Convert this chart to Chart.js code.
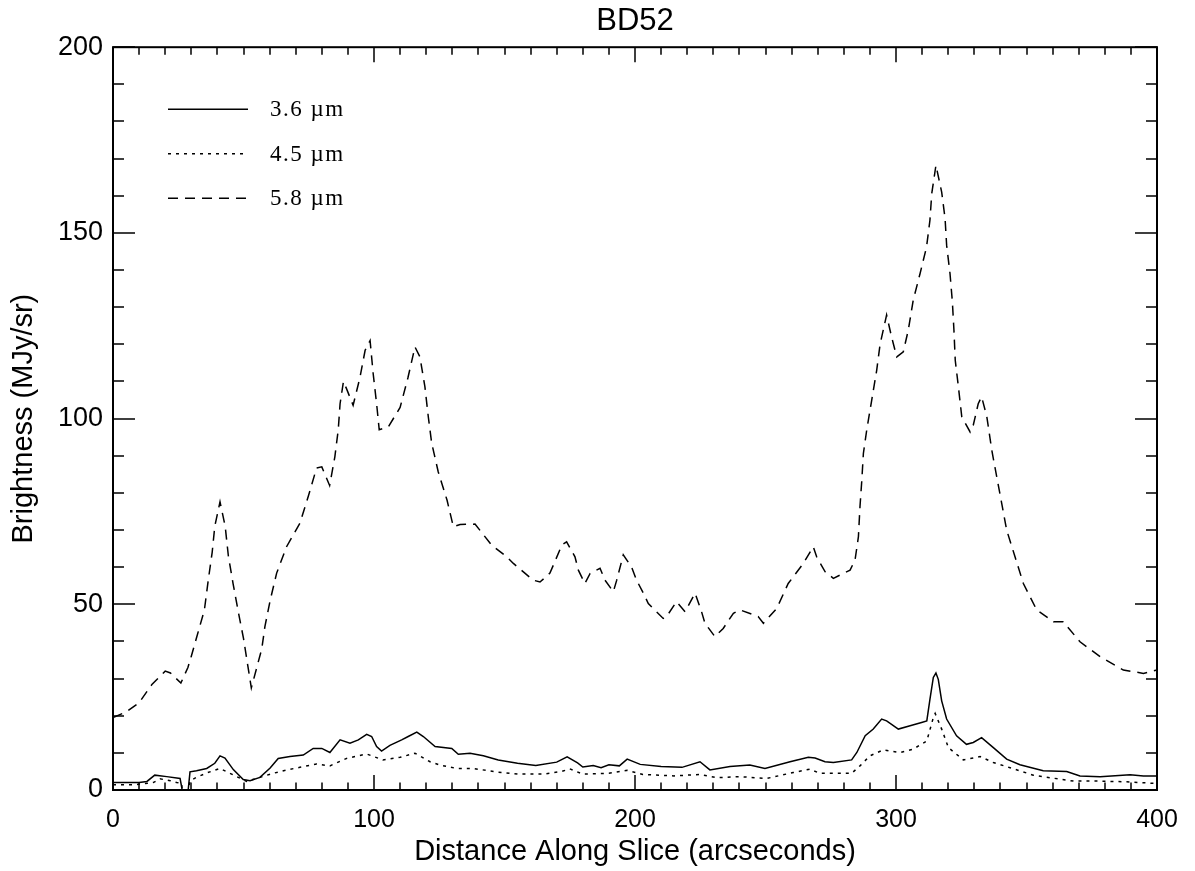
<!DOCTYPE html>
<html>
<head>
<meta charset="utf-8">
<title>BD52</title>
<script src="https://cdn.jsdelivr.net/npm/chart.js@4.4.1/dist/chart.umd.min.js"></script>
<style>
  html, body { margin: 0; padding: 0; background: #fff; }
  canvas { display: block; }
</style>
</head>
<body>
<canvas id="chart" width="1195" height="871"></canvas>
<script>
// Brightness profiles along the BD52 slice (MJy/sr vs arcseconds)
const distance58 = [0, 5, 10, 15, 20, 22, 26, 28.7, 30, 32, 35, 36.5, 38, 39, 41, 43, 44.2, 46, 48, 50,
  53, 57, 58.2, 60.2, 62.7, 66.5, 71.6, 74.8, 78, 80, 83, 85, 86.3, 87, 88.3, 89.5, 92, 94.6, 96.6, 98.5,
  99.7, 101, 102, 105.5, 110, 113, 115.7, 117.6, 119.5, 120.8, 122.1, 124.6, 128, 130.4, 133, 138.7, 145, 150.8, 153.4, 161,
  163.6, 167.4, 169.3, 172, 173.8, 177, 178.3, 180.8, 182.8, 186.6, 188.5, 191.7, 193, 195.5, 198.7, 200.6, 203.2, 205.1, 210.8, 212.1,
  215.9, 219.2, 223, 225.5, 226.8, 230.6, 233.8, 237.7, 240.2, 247.2, 249.2, 254.3, 258.7, 264.5, 268.3, 269.6, 272.8, 276, 282.4, 284.3,
  285.6, 286.2, 286.9, 287.5, 288.8, 290.7, 292.6, 293.9, 296.4, 298.3, 300.3, 302.8, 304.7, 306.6, 309.2, 311.7, 313, 313.7, 315.3, 317.5,
  318.8, 319.4, 320.7, 321.6, 322.2, 322.7, 323.9, 325.2, 328.4, 329.6, 331.5, 332.8, 334.8, 336.7, 338.6, 340.5, 342.4, 345.6, 348.8, 353.9,
  360.3, 364.1, 370.5, 378.2, 387.1, 394.8, 400];
const brightness58 = [19.5, 21, 23.5, 28.5, 32, 31.5, 28.8, 33, 36, 41, 48.4, 56.5, 64, 71, 77.6, 70.9, 63, 55.6, 48, 40.8,
  27.5, 38, 44, 51, 58.4, 65.5, 71.8, 79, 86.7, 87, 82, 89.7, 97, 104, 110, 108, 103.6, 111, 118.4, 121,
  112, 104, 97, 97.8, 103, 111, 119.3, 116.6, 108.6, 100.5, 93.4, 85.7, 78, 70.9, 71.5, 71.6, 66, 62.8, 61, 56.5,
  56, 58.4, 61.5, 66, 66.8, 62.8, 59.2, 55.6, 58.3, 59.7, 56.5, 53.4, 56.5, 63.3, 60, 56.5, 53, 50.2, 46.2, 46.7,
  50.7, 48, 53, 48, 44.9, 41.3, 43.5, 47.6, 48.5, 46.7, 44.9, 48.9, 55.6, 61, 65.5, 62.8, 58.8, 57, 59.2, 61.9,
  68.2, 76.3, 83.4, 90.6, 97, 105, 113, 120, 127.9, 122, 116.6, 118, 123.8, 131.9, 139, 146.2, 153.4, 160.6, 168.2, 161,
  153.9, 146.7, 139, 131.4, 123.8, 115.7, 108.6, 100.5, 96.4, 98.2, 104, 105.9, 100.5, 91.5, 84.3, 77.2, 70, 62.8, 55.6, 48.5,
  45.3, 45.3, 39.9, 35.9, 32.3, 31.4, 32.3];

const distance36 = [0, 5, 10, 13, 16, 20.6, 25.7, 26.5, 28.8, 29.5, 32, 35.9, 39, 41, 42.9, 46.1, 49.9, 52.5, 56.3, 60.2,
  63.3, 67.8, 72.9, 76.7, 80, 83.1, 87, 90.8, 94, 97.2, 99.1, 101, 102.9, 106.1, 110.6, 113.1, 116.4, 118.9, 123.4, 129.8,
  132.3, 136.8, 141.9, 147.6, 155, 162, 170, 174, 178, 180, 184, 187, 190, 194, 197, 202, 210, 218, 224.9, 228.7,
  236.4, 244, 249.8, 259.4, 266.4, 269, 272.8, 276, 283, 285, 288.2, 291.3, 294.5, 296.4, 300.9, 305.4, 309.8, 311.8, 313, 314.3,
  315.3, 316.2, 317.5, 319.4, 323.2, 327, 329.6, 332.8, 337.3, 342.4, 347.5, 356.4, 365.4, 370.5, 378.2, 389.7, 394.8, 400];
const brightness36 = [2.0, 2.0, 2.0, 2.3, 4.0, 3.6, 3.1, 0, 0, 4.9, 5.2, 5.8, 7.2, 9.2, 8.6, 5.5, 2.8, 2.5, 3.4, 5.9,
  8.5, 9, 9.4, 11.2, 11.2, 10.1, 13.5, 12.6, 13.5, 15, 14.4, 11.7, 10.5, 12, 13.5, 14.4, 15.6, 14.4, 11.7, 11.2,
  9.6, 9.9, 9.2, 8.1, 7.2, 6.6, 7.5, 8.9, 7.3, 6.2, 6.6, 6.0, 6.8, 6.5, 8.3, 6.9, 6.3, 6.1, 7.6, 5.4,
  6.3, 6.7, 5.8, 7.6, 8.8, 8.6, 7.6, 7.4, 8.1, 10.1, 14.6, 16.4, 19.1, 18.6, 16.4, 17.3, 18.2, 18.6, 24.4, 30.3,
  31.5, 29.8, 24, 19.1, 14.6, 12.3, 12.8, 14.1, 11.4, 8.3, 6.8, 5.2, 5.0, 3.8, 3.6, 4.1, 3.8, 3.8];

const distance45 = [0, 8, 15.4, 18, 22, 24.4, 26.3, 26.5, 28.8, 29.5, 32, 35.9, 41, 44.8, 51.2, 56.3, 61.4, 66.5, 71.6, 78,
  83.1, 89.5, 97.2, 103.4, 110, 115.7, 121.5, 125.3, 131.7, 138, 147.6, 155, 165, 172, 175, 180, 190, 197, 203, 215,
  224.9, 231.3, 240.2, 250.4, 260.6, 267, 270.9, 283, 286.2, 290, 295.1, 301.5, 306.6, 311.8, 314.3, 315, 317.5, 320.1, 325.8, 332.2,
  337.3, 343.7, 352.6, 359.1, 368, 378.2, 388.4, 398.6, 400];
const brightness45 = [1.4, 1.4, 2.0, 3.0, 2.5, 2.0, 1.8, 0, 0, 2.5, 3.4, 4.6, 5.8, 4.5, 2.3, 3.4, 4.5, 5.4, 6.1, 7.0,
  6.5, 8.5, 9.7, 8.1, 8.8, 9.9, 7.6, 6.7, 5.8, 5.8, 4.8, 4.3, 4.3, 5.0, 5.7, 4.3, 4.5, 5.3, 4.2, 3.8,
  4.2, 3.3, 3.6, 3.1, 4.7, 5.6, 4.5, 4.5, 6.5, 9.2, 10.8, 10.1, 11, 13.2, 19.5, 20.6, 16.4, 11.4, 8.1, 9,
  7.4, 6, 4, 3.3, 2.4, 2.4, 2.2, 1.8, 1.8];

const seriesLabels = ['3.6 \u00b5m', '4.5 \u00b5m', '5.8 \u00b5m'];
const xTickLabels = [0, 100, 200, 300, 400];
const yTickLabels = [0, 50, 100, 150, 200];

const toPoints = (xs, ys) => xs.map((d, i) => ({ x: d, y: ys[i] }));

// Box frame with inward major/minor ticks on all four sides
const frameTicks = {
  id: 'frameTicks',
  afterDatasetsDraw(chart) {
    const { ctx, chartArea: a, scales: { x, y } } = chart;
    ctx.save();
    ctx.strokeStyle = '#000';
    ctx.lineWidth = 1.5;
    ctx.beginPath();
    x.ticks.forEach(t => {
      const px = Math.round(x.getPixelForValue(t.value));
      const len = xTickLabels.includes(t.value) ? 15 : 7.5;
      ctx.moveTo(px, a.bottom); ctx.lineTo(px, a.bottom - len);
      ctx.moveTo(px, a.top); ctx.lineTo(px, a.top + len);
    });
    y.ticks.forEach(t => {
      const py = Math.round(y.getPixelForValue(t.value));
      const len = yTickLabels.includes(t.value) ? 22 : 11;
      ctx.moveTo(a.left, py); ctx.lineTo(a.left + len, py);
      ctx.moveTo(a.right, py); ctx.lineTo(a.right - len, py);
    });
    ctx.stroke();
    ctx.lineWidth = 2;
    ctx.strokeRect(a.left, a.top, a.right - a.left, a.bottom - a.top);
    ctx.restore();
  }
};

// Line-style key in the upper left of the plot
const legendInset = {
  id: 'legendInset',
  afterDraw(chart) {
    const { ctx, chartArea: a } = chart;
    ctx.save();
    chart.data.datasets.forEach((ds, i) => {
      const yy = a.top + 62 + i * 44.5;
      ctx.strokeStyle = ds.borderColor;
      ctx.lineWidth = ds.borderWidth;
      ctx.setLineDash(ds.borderDash || []);
      ctx.beginPath();
      ctx.moveTo(a.left + 55, yy);
      ctx.lineTo(a.left + 135, yy);
      ctx.stroke();
      ctx.setLineDash([]);
      ctx.fillStyle = '#000';
      ctx.font = '23px "Liberation Serif", serif';
      ctx.letterSpacing = '1.5px';
      ctx.textBaseline = 'middle';
      ctx.textAlign = 'left';
      ctx.fillText(ds.label, a.left + 157, yy + 1);
    });
    ctx.restore();
  }
};

const lineStyle = { borderColor: '#000', borderWidth: 1.5, pointRadius: 0, tension: 0, fill: false };
const axisFont = '"Liberation Sans", sans-serif';

new Chart(document.getElementById('chart'), {
  type: 'line',
  data: {
    datasets: [
      { label: seriesLabels[0], data: toPoints(distance36, brightness36), ...lineStyle },
      { label: seriesLabels[1], data: toPoints(distance45, brightness45), ...lineStyle, borderDash: [3, 5] },
      { label: seriesLabels[2], data: toPoints(distance58, brightness58), ...lineStyle, borderDash: [10, 7] }
    ]
  },
  options: {
    responsive: false,
    animation: false,
    devicePixelRatio: 1,
    layout: { padding: { left: 0, right: 38, top: 0, bottom: 0 } },
    plugins: {
      legend: { display: false },
      tooltip: { enabled: false },
      title: {
        display: true,
        fullSize: false,
        text: 'BD52',
        color: '#000',
        font: { family: axisFont, size: 31, weight: 'normal', lineHeight: 1.2 },
        padding: { top: 3, bottom: 7 }
      }
    },
    scales: {
      x: {
        type: 'linear',
        min: 0,
        max: 400,
        afterFit(scale) { scale.height = 81; },
        grid: { display: false, drawTicks: false },
        border: { display: false },
        ticks: {
          stepSize: 10,
          autoSkip: false,
          maxRotation: 0,
          padding: 15,
          color: '#000',
          font: { family: axisFont, size: 25 },
          callback: v => (xTickLabels.includes(v) ? String(v) : '')
        },
        title: {
          display: true,
          text: 'Distance Along Slice (arcseconds)',
          color: '#000',
          font: { family: axisFont, size: 29, lineHeight: 1.2 },
          padding: { top: 0, bottom: 2 }
        }
      },
      y: {
        type: 'linear',
        min: 0,
        max: 200,
        afterFit(scale) { scale.width = 113; },
        grid: { display: false, drawTicks: false },
        border: { display: false },
        ticks: {
          stepSize: 10,
          autoSkip: false,
          padding: 10,
          color: '#000',
          font: { family: axisFont, size: 27 },
          callback: v => (yTickLabels.includes(v) ? String(v) : '')
        },
        title: {
          display: true,
          text: 'Brightness (MJy/sr)',
          color: '#000',
          font: { family: axisFont, size: 29, lineHeight: 1.2 },
          padding: { top: 7, bottom: 0 }
        }
      }
    }
  },
  plugins: [frameTicks, legendInset]
});
</script>
</body>
</html>
